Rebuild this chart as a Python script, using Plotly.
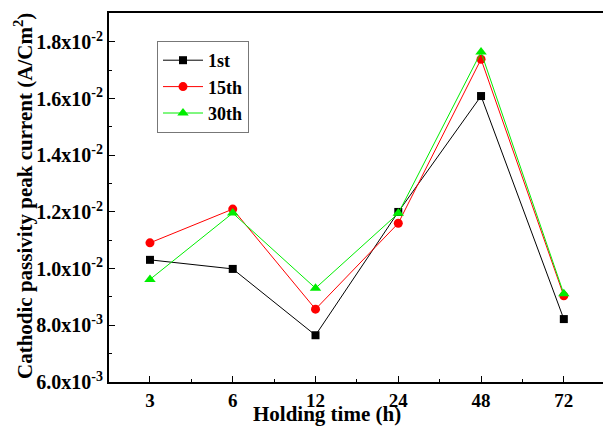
import plotly.graph_objects as go

categories = ["3", "6", "12", "24", "48", "72"]
first = [0.01031, 0.00999, 0.00765, 0.01200, 0.01609, 0.00822]
fifteenth = [0.01091, 0.01210, 0.00857, 0.01160, 0.01739, 0.00904]
thirtieth = [0.00962, 0.01196, 0.00931, 0.01195, 0.01764, 0.00911]
ytick_vals = [0.006, 0.008, 0.010, 0.012, 0.014, 0.016, 0.018]
ytick_text = ["6.0x10<sup>-3</sup>", "8.0x10<sup>-3</sup>", "1.0x10<sup>-2</sup>",
              "1.2x10<sup>-2</sup>", "1.4x10<sup>-2</sup>", "1.6x10<sup>-2</sup>",
              "1.8x10<sup>-2</sup>"]

xpos = list(range(len(categories)))
FONT = "Liberation Serif"

fig = go.Figure()
series = [
    ("1st", first, "black", "square", 8),
    ("15th", fifteenth, "red", "circle", 9),
    ("30th", thirtieth, "#00EE00", "triangle-up", 10),
]
for name, vals, col, sym, sz in series:
    fig.add_trace(go.Scatter(
        x=xpos, y=vals, name=name, mode="lines+markers",
        line=dict(color=col, width=1),
        marker=dict(symbol=sym, size=sz, color=col),
    ))

# page body has an 8px margin; figure is placed at (8, 8)
OFF = 8
W, H = 611 - OFF, 426 - OFF
SL, ST, SB = 109, 13, 382          # plot area edges in screen pixels
L, T = SL - OFF, ST - OFF
B = H - (SB - OFF)
PW, PH = W - L, SB - ST

fig.update_layout(
    width=W, height=H,
    margin=dict(l=L, r=0, t=T, b=B, autoexpand=False),
    plot_bgcolor="white", paper_bgcolor="white",
    font=dict(family=FONT, color="black"),
    showlegend=True,
    legend=dict(
        x=(157 - SL) / PW, y=(SB - 41) / PH, xanchor="left", yanchor="top",
        bordercolor="#777777", borderwidth=1, bgcolor="white",
        font=dict(family=FONT, size=18, color="black", weight="bold"),
        itemwidth=40, tracegroupgap=0,
    ),
)
fig.update_xaxes(
    range=[-0.495, 5.57], automargin=False,
    tickvals=xpos, ticktext=categories,
    ticks="inside", ticklen=6, tickwidth=1, tickcolor="black",
    minor=dict(tickvals=[i + 0.5 for i in xpos[:-1]], ticks="inside", ticklen=3, tickcolor="black"),
    showline=True, linecolor="black", linewidth=2, mirror=True,
    showgrid=False, zeroline=False,
    tickfont=dict(family=FONT, size=19, color="black", weight="bold"),
)
fig.update_yaxes(
    range=[0.006, 0.01902], automargin=False,
    tickvals=ytick_vals, ticktext=ytick_text,
    ticks="inside", ticklen=6, tickwidth=1, tickcolor="black",
    minor=dict(dtick=0.001, tick0=0.006, ticks="inside", ticklen=3, tickcolor="black"),
    showline=True, linecolor="black", linewidth=2,
    showgrid=False, zeroline=False,
    tickfont=dict(family=FONT, size=20, color="black", weight="bold"),
)
fig.add_annotation(
    text="Cathodic passivity peak current (A/Cm<sup>2</sup>)",
    xref="paper", yref="paper", x=(23 - SL) / PW, y=(SB - 196) / PH,
    xanchor="center", yanchor="middle", textangle=-90, showarrow=False,
    font=dict(family=FONT, size=21, color="black", weight="bold"),
)
fig.add_annotation(
    text="Holding time (h)", xref="paper", yref="paper",
    x=(327 - SL) / PW, y=(SB - 414) / PH, xanchor="center", yanchor="middle",
    showarrow=False, font=dict(family=FONT, size=21, color="black", weight="bold"),
)
fig.write_html("out.html")
